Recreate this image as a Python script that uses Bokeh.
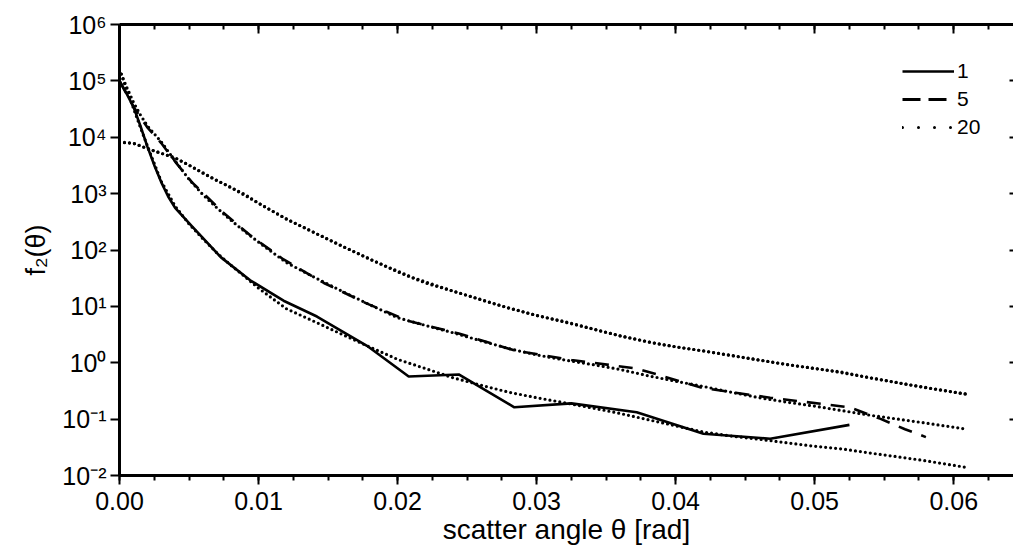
from bokeh.plotting import figure
from bokeh.models import (LinearAxis, LogAxis, SingleIntervalTicker, FixedTicker,
                          PrintfTickFormatter, LogTickFormatter, Legend, LegendItem, Range1d)
from bokeh.embed import file_html
from bokeh.resources import INLINE

FONT = "Liberation Sans"
NAN = float("nan")

# ---------------- data ----------------
y_ticks = [1e-2, 1e-1, 1e0, 1e1, 1e2, 1e3, 1e4, 1e5, 1e6]
y_tick_labels = ["10\u207b\u00b2", "10\u207b\u00b9", "10\u2070", "10\u00b9", "10\u00b2",
                 "10\u00b3", "10\u2074", "10\u2075", "10\u2076"]

# fitted / model curves (dotted, not in legend)
theta_fit = [0, 0.0005, 0.001, 0.0015, 0.002, 0.003, 0.004, 0.005, 0.006, 0.007,
             0.008, 0.009, 0.010, 0.012, 0.014, 0.016, 0.018, 0.020, 0.022, 0.024,
             0.026, 0.028, 0.030, 0.032, 0.034, 0.036, 0.038, 0.040, 0.042, 0.044,
             0.046, 0.048, 0.050, 0.052, 0.054, 0.056, 0.058, 0.061]
fit_1 = [1.6e5, 7.1e4, 3.3e4, 1.5e4, 7.1e3, 1.66e3, 600, 290, 158, 89,
         54, 34, 21, 9.1, 5.4, 3.2, 1.9, 1.15, 0.79, 0.54,
         0.40, 0.30, 0.24, 0.195, 0.158, 0.126, 0.098, 0.076, 0.059, 0.050,
         0.044, 0.038, 0.033, 0.0295, 0.025, 0.0214, 0.0182, 0.0138]
fit_5 = [1.6e5, 7.9e4, 4.2e4, 2.5e4, 1.6e4, 8.3e3, 3.8e3, 1.8e3, 955, 562,
         339, 214, 138, 60, 33, 18.6, 10.7, 6.3, 4.6, 3.4,
         2.45, 1.78, 1.38, 1.12, 0.93, 0.76, 0.59, 0.47, 0.38, 0.30,
         0.24, 0.20, 0.17, 0.141, 0.117, 0.100, 0.085, 0.066]
fit_20 = [8.1e3, 8.1e3, 7.8e3, 7.1e3, 6.3e3, 5.2e3, 4.3e3, 3.2e3, 2.3e3, 1.7e3,
          1.29e3, 977, 676, 355, 204, 117, 69, 41, 26, 18.6,
          13.2, 9.3, 6.9, 5.4, 4.0, 3.0, 2.34, 1.91, 1.62, 1.35,
          1.12, 0.93, 0.79, 0.68, 0.54, 0.44, 0.36, 0.275]

# series "1" (solid)
theta_1 = [0, 0.0005, 0.001, 0.0015, 0.002, 0.0025, 0.003, 0.0035, 0.004, 0.0052,
           0.0073, 0.0094, 0.0118, 0.0142, 0.0178, 0.0208, 0.0244, 0.0284, 0.0325,
           0.0372, 0.042, 0.0468, 0.0525]
series_1 = [1.0e5, 6.0e4, 3.5e4, 1.6e4, 6.9e3, 3.2e3, 1.6e3, 890, 560, 265,
            74, 29, 12.6, 6.6, 2.0, 0.57, 0.62, 0.162, 0.19,
            0.132, 0.055, 0.045, 0.079]

# series "5" (dashed)
theta_5 = [0, 0.001, 0.002, 0.003, 0.004, 0.0052, 0.0073, 0.0094, 0.0118, 0.0147,
           0.0178, 0.0208, 0.0244, 0.0284, 0.0325, 0.0372, 0.042, 0.0468, 0.0525,
           0.0547, 0.0565, 0.058]
series_5 = [1.0e5, 3.5e4, 1.5e4, 7.9e3, 3.7e3, 1.6e3, 500, 182, 68, 26,
            11.2, 5.5, 3.3, 1.66, 1.12, 0.79, 0.355, 0.24, 0.162,
            0.102, 0.066, 0.048]

# series "20" (dotted)
theta_20 = [0, 0.001, 0.002, 0.003, 0.004, 0.005, 0.0065, 0.008, 0.010, 0.012,
            0.015, 0.018, 0.021, 0.024, 0.027, 0.030, 0.033, 0.036, 0.039, 0.042,
            0.045, 0.048, 0.051, 0.054, 0.057, 0.061]
series_20 = [8.1e3, 7.8e3, 6.3e3, 5.2e3, 4.3e3, 3.2e3, 2.0e3, 1.29e3, 676, 355,
             155, 69, 33, 18.6, 11.0, 6.9, 4.6, 3.0, 2.1, 1.62,
             1.22, 0.93, 0.73, 0.54, 0.40, 0.275]

legend_labels = ["1", "5", "20"]

# ---------------- figure ----------------
p = figure(frame_width=894, frame_height=451,
           x_range=Range1d(0, 0.0643), y_range=Range1d(1e-2, 1e6),
           y_axis_type="log", output_backend="svg", toolbar_location=None,
           min_border_left=119, min_border_top=24, min_border_right=0,
           min_border_bottom=0)
p.outline_line_color = None
p.xgrid.visible = False
p.ygrid.visible = False
p.background_fill_color = "white"
p.border_fill_color = "white"

x_ticker = SingleIntervalTicker(interval=0.01, num_minor_ticks=4)
y_ticker = FixedTicker(ticks=y_ticks, minor_ticks=[])

# bottom axis
xa = p.xaxis[0]
xa.ticker = x_ticker
xa.formatter = PrintfTickFormatter(format="%.2f")
xa.axis_label = "scatter angle \u03b8 [rad]"
xa.axis_label_text_font = FONT
xa.axis_label_text_font_style = "normal"
xa.axis_label_text_font_size = "28px"
xa.axis_label_text_color = "black"
xa.axis_label_standoff = 1
xa.major_label_text_font = FONT
xa.major_label_text_font_size = "25px"
xa.major_label_text_color = "black"
xa.major_label_standoff = 7
xa.axis_line_width = 3
xa.major_tick_line_width = 2
xa.minor_tick_line_width = 2
xa.major_tick_out = 9
xa.major_tick_in = 0
xa.minor_tick_out = 5
xa.minor_tick_in = 0

# left axis
ya = p.yaxis[0]
ya.ticker = y_ticker
ya.formatter = LogTickFormatter()
ya.major_label_overrides = dict(zip(y_ticks, y_tick_labels))
ya.axis_label = "f\u2082(\u03b8)"
ya.axis_label_text_font = FONT
ya.axis_label_text_font_style = "normal"
ya.axis_label_text_font_size = "27px"
ya.axis_label_text_color = "black"
ya.axis_label_standoff = 8
ya.major_label_text_font = FONT
ya.major_label_text_font_size = "25px"
ya.major_label_text_color = "black"
ya.major_label_standoff = 4
ya.axis_line_width = 3
ya.major_tick_line_width = 2
ya.major_tick_out = 9
ya.major_tick_in = 0
ya.minor_tick_line_color = None

# top axis (ticks only, inward; labels not drawn)
top = LinearAxis(ticker=x_ticker, major_label_text_font_size="1px",
                 major_label_text_color=None,
                 major_label_standoff=0, axis_line_width=3,
                 major_tick_line_width=2, minor_tick_line_width=2,
                 major_tick_in=9, major_tick_out=0, minor_tick_in=5, minor_tick_out=0)
p.add_layout(top, "above")

# right axis (ticks only, inward, its line lies outside the picture)
right = LogAxis(ticker=y_ticker, major_label_text_font_size="1px",
                major_label_text_color=None,
                major_label_standoff=0, axis_line_color=None,
                major_tick_line_width=2, major_tick_in=4, major_tick_out=0,
                minor_tick_line_color=None)
p.add_layout(right, "right")

DOT = dict(line_color="black", line_width=3.2, line_dash="0 5", line_cap="round")

# model curves
p.line(theta_fit, fit_1, **DOT)
p.line(theta_fit, fit_5, **DOT)
p.line(theta_fit, fit_20, **DOT)

# data series
r1 = p.line(theta_1, series_1, line_color="black", line_width=2.6)
r5 = p.line(theta_5, series_5, line_color="black", line_width=2.6, line_dash="14 10")
r20 = p.line(theta_20, series_20, **DOT)

# legend-only glyphs (nothing plotted; the legend uses the reference's own dash lengths)
l1 = p.line([NAN], [NAN], line_color="black", line_width=2.6)
l5 = p.line([NAN], [NAN], line_color="black", line_width=3, line_dash="18 8")
l20 = p.line([NAN], [NAN], line_color="black", line_width=3, line_dash="0 16", line_cap="round")

legend = Legend(items=[LegendItem(label=legend_labels[0], renderers=[l1]),
                       LegendItem(label=legend_labels[1], renderers=[l5]),
                       LegendItem(label=legend_labels[2], renderers=[l20])],
                location=(783, 336), border_line_color=None,
                background_fill_alpha=0, padding=0, margin=0, spacing=4,
                glyph_width=52, glyph_height=22, label_height=22,
                label_standoff=3, label_text_font=FONT, label_text_font_size="21px",
                label_text_color="black")
p.add_layout(legend, "center")

open("out.html", "w").write(file_html(p, INLINE))
